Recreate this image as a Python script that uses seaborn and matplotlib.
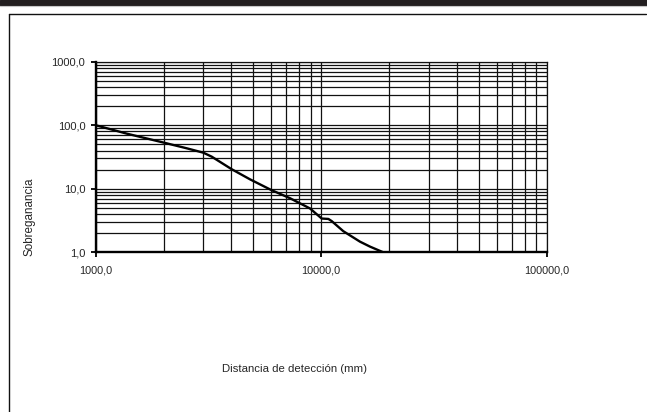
import matplotlib
matplotlib.use("Agg")
import matplotlib.pyplot as plt
import matplotlib.ticker as mticker
from matplotlib.lines import Line2D
from matplotlib.patches import Rectangle
import seaborn as sns
import pandas as pd

# Values
distance_mm = [1000, 1372, 2015, 2530, 3000, 3270, 4010, 4830, 5990, 7270,
               8920, 10050, 10760, 11130, 12530, 14860, 16450, 18850]
overgain = [100.0, 73.8, 53.0, 43.4, 37.0, 32.0, 20.3, 14.1, 9.6, 7.1,
            4.9, 3.4, 3.35, 3.1, 2.15, 1.47, 1.23, 1.0]

x_ticks = [1000, 10000, 100000]
y_ticks = [1, 10, 100, 1000]

df = pd.DataFrame({"dist": distance_mm, "gain": overgain})

sns.set_style("white")
plt.rcParams["font.family"] = ["Liberation Sans", "DejaVu Sans"]

W, H = 647, 412
fig = plt.figure(figsize=(W / 100, H / 100), dpi=100)

# page decoration: dark band on top and the box frame
fig.patches.append(Rectangle((0, 1 - 4.5 / H), 1, 4.5 / H, transform=fig.transFigure,
                             color="#231f20", zorder=0))
fig.lines.append(Line2D([0, 1], [1 - 5.5 / H] * 2, transform=fig.transFigure,
                        color="#c8c8c8", lw=0.8))
fig.lines.append(Line2D([8.5 / W, 646 / W], [1 - 13.5 / H] * 2, transform=fig.transFigure,
                        color="#111111", lw=1.0))
fig.lines.append(Line2D([8.5 / W] * 2, [0, 1 - 13.5 / H], transform=fig.transFigure,
                        color="#111111", lw=1.0))

left, right = 95.7 / W, 546.7 / W
bottom, top = 1 - 252.3 / H, 1 - 61.7 / H
ax = fig.add_axes([left, bottom, right - left, top - bottom])

sns.lineplot(data=df, x="dist", y="gain", ax=ax, color="black", lw=1.7, zorder=5)

ax.set_xscale("log")
ax.set_yscale("log")
ax.set_xlim(1000, 100000)
ax.set_ylim(1, 1000)

ax.xaxis.set_major_locator(mticker.FixedLocator(x_ticks))
ax.yaxis.set_major_locator(mticker.FixedLocator(y_ticks))
ax.xaxis.set_minor_locator(mticker.LogLocator(base=10, subs=range(2, 10)))
ax.yaxis.set_minor_locator(mticker.LogLocator(base=10, subs=range(2, 10)))
ax.xaxis.set_minor_formatter(mticker.NullFormatter())
ax.yaxis.set_minor_formatter(mticker.NullFormatter())
ax.set_xticklabels([f"{v:.1f}".replace(".", ",") for v in x_ticks])
ax.set_yticklabels([f"{v:.1f}".replace(".", ",") for v in y_ticks])

ax.grid(True, which="both", color="#111111", lw=0.9)
ax.tick_params(axis="both", which="major", direction="out", length=3.5, width=1.3,
               color="black", labelsize=8, pad=4, left=True, bottom=True)
ax.tick_params(axis="x", which="major", pad=6, labelsize=7.8)
ax.tick_params(which="minor", length=0)

for side in ["top", "right"]:
    ax.spines[side].set_color("#111111")
    ax.spines[side].set_linewidth(0.9)
for side in ["left", "bottom"]:
    ax.spines[side].set_color("black")
    ax.spines[side].set_linewidth(1.7)

ax.set_xlabel("")
ax.set_ylabel("")
fig.text(295 / W, 1 - 369 / H, "Distancia de detección (mm)", ha="center", va="center",
         fontsize=8.2)
fig.text(29 / W, 1 - 217 / H, "Sobreganancia", ha="center", va="center",
         rotation=90, fontsize=8.4)

fig.savefig("out.png", dpi=100)
